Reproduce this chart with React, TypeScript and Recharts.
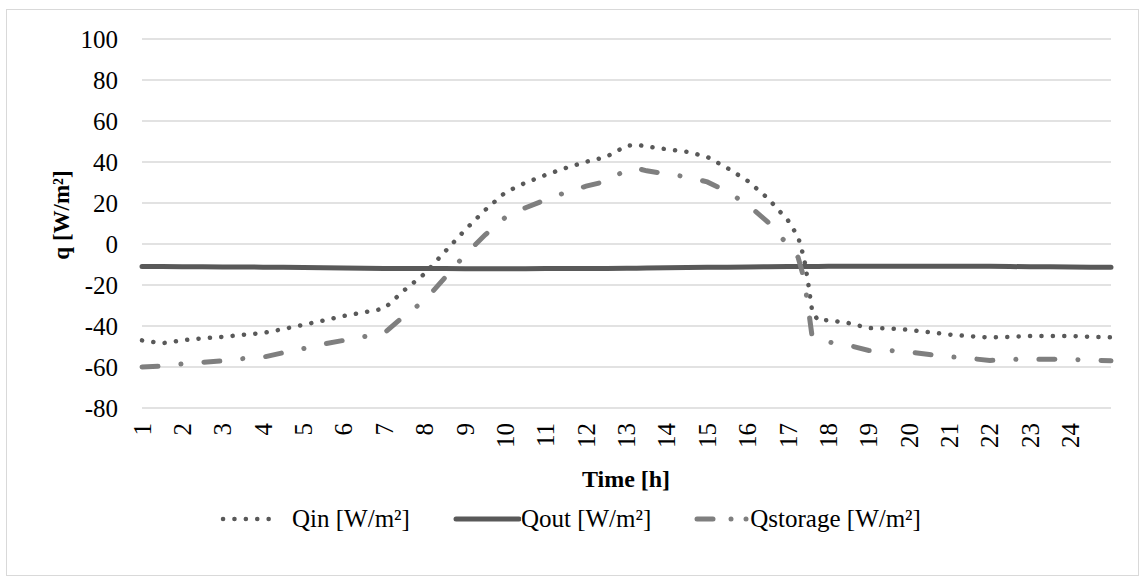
import { LineChart, Line, XAxis, YAxis, CartesianGrid, Legend, Label } from "recharts";

const FONT = "'Liberation Serif', 'Times New Roman', serif";
const DARK = "#595959";
const LIGHT = "#7f7f7f";
const GRID = "#d9d9d9";

// time of day [h]; extra samples around the evening drop
const hours = [
  1, 1.5, 2, 2.5, 3, 3.5, 4, 4.5, 5, 5.5, 6, 6.5, 7, 7.5, 8, 8.5, 9, 9.5, 10, 10.5,
  11, 11.5, 12, 12.5, 13, 13.25, 13.5, 14, 14.5, 15, 15.5, 16, 16.5, 17, 17.25, 17.4,
  17.5, 17.6, 17.75, 18, 18.5, 19, 19.5, 20, 20.5, 21, 21.5, 22, 22.5, 23, 23.5, 24,
  24.5, 25,
];

const qIn = [
  -47, -48.4, -47, -46, -45.3, -44.3, -43.4, -41.5, -39.4, -37.3, -35.1, -33.3, -31.5,
  -22.5, -14.5, -3.8, 6.8, 16.6, 25.2, 29.9, 33.7, 37.1, 40.1, 42.5, 47.9, 48.4, 47.6,
  46.2, 45, 42.5, 37, 30.8, 22.3, 11.5, 3.5, -7, -19, -33, -37.4, -37.1, -38.6, -41,
  -41.2, -41.9, -43, -44.2, -45, -45.6, -45.3, -44.9, -44.9, -44.9, -45.3, -45.5,
];

const qOut = [
  -11, -11, -11.1, -11.1, -11.2, -11.2, -11.3, -11.4, -11.5, -11.6, -11.7, -11.8, -11.9,
  -11.9, -12, -12, -12.1, -12.1, -12.1, -12.1, -12, -12, -11.9, -11.9, -11.8, -11.8,
  -11.7, -11.6, -11.5, -11.4, -11.3, -11.2, -11.1, -11, -11, -11, -11, -11, -11, -10.9,
  -10.9, -10.8, -10.8, -10.8, -10.8, -10.8, -10.9, -10.9, -11, -11.1, -11.1, -11.2,
  -11.3, -11.3,
];

const qStorage = [
  -60, -59.6, -58.5, -57.7, -57, -55.9, -55.2, -53, -51, -48.8, -47, -45.2, -43.4, -35,
  -27.5, -16.5, -5.3, 4.5, 13, 17.7, 21.6, 25.2, 28.2, 30.6, 36.2, 36.9, 35.7, 34.2,
  32.7, 30.3, 25.5, 19.2, 10.7, -0.5, -6.5, -17, -31, -45.5, -46.8, -47.8, -49.4, -51.9,
  -51.9, -52.7, -53.9, -55, -55.8, -56.8, -56.3, -56.2, -56.2, -56.3, -56.7, -57,
];

const hourTicks = [1, 2, 3, 4, 5, 6, 7, 8, 9, 10, 11, 12, 13, 14, 15, 16, 17, 18, 19, 20, 21, 22, 23, 24];
const qTicks = [-80, -60, -40, -20, 0, 20, 40, 60, 80, 100];

const data = hours.map((hour, i) => ({
  hour,
  qIn: qIn[i],
  qOut: qOut[i],
  qStorage: qStorage[i],
}));

const DOTS = "0.1 11.3";
const DASH_DOT = "16 23 0.1 23";

function HourTick({ x, y, payload }: any) {
  return (
    <text
      x={x}
      y={y}
      transform={`rotate(-90 ${x} ${y})`}
      textAnchor="end"
      dominantBaseline="central"
      fontSize={25}
      fontFamily={FONT}
      fill="#000"
    >
      {payload.value}
    </text>
  );
}

function QTick({ x, y, payload }: any) {
  return (
    <text x={x} y={y} textAnchor="end" dominantBaseline="central" fontSize={25} fontFamily={FONT} fill="#000">
      {payload.value}
    </text>
  );
}

function SeriesLegend() {
  return (
    <div
      style={{
        display: "flex",
        justifyContent: "center",
        alignItems: "center",
        height: 30,
        fontFamily: FONT,
        fontSize: 25,
        color: "#000",
        whiteSpace: "nowrap",
      }}
    >
      <svg width={60} height={10}>
        <line x1={3} y1={5} x2={58} y2={5} stroke={DARK} strokeWidth={4.5} strokeLinecap="round" strokeDasharray={DOTS} />
      </svg>
      <span style={{ marginLeft: 12 }}>Qin [W/m²]</span>
      <svg width={68} height={10} style={{ marginLeft: 43 }}>
        <line x1={3} y1={5} x2={66} y2={5} stroke={DARK} strokeWidth={5} strokeLinecap="round" />
      </svg>
      <span>Qout [W/m²]</span>
      <svg width={56} height={10} style={{ marginLeft: 43 }}>
        <line x1={3} y1={5} x2={19} y2={5} stroke={LIGHT} strokeWidth={5} strokeLinecap="round" />
        <circle cx={37} cy={5} r={2.5} fill={LIGHT} />
        <circle cx={52} cy={5} r={2.5} fill={LIGHT} />
      </svg>
      <span>Qstorage [W/m²]</span>
    </div>
  );
}

export default function App() {
  return (
    <div style={{ position: "absolute", left: 0, top: 0, width: 1141, height: 579, background: "#fff" }}>
      <div
        style={{
          position: "absolute",
          left: 6,
          top: 9,
          width: 1133,
          height: 567,
          border: `1px solid ${GRID}`,
          boxSizing: "border-box",
        }}
      />
      <LineChart
        width={1141}
        height={579}
        data={data}
        margin={{ top: 39, right: 30, bottom: 121, left: 0 }}
        style={{ position: "absolute", left: 0, top: 0 }}
      >
        <CartesianGrid vertical={false} stroke={GRID} strokeWidth={1.5} />
        <XAxis
          dataKey="hour"
          type="number"
          domain={[1, 25]}
          ticks={hourTicks}
          interval={0}
          height={50}
          axisLine={false}
          tickLine={false}
          tickSize={0}
          tickMargin={15}
          tick={<HourTick />}
        >
          <Label
            content={() => (
              <text x={626} y={479} textAnchor="middle" dominantBaseline="central" fontSize={24} fontWeight="bold" fontFamily={FONT} fill="#000">
                Time [h]
              </text>
            )}
          />
        </XAxis>
        <YAxis
          type="number"
          domain={[-80, 100]}
          ticks={qTicks}
          interval={0}
          width={142}
          axisLine={false}
          tickLine={false}
          tickSize={0}
          tickMargin={24}
          tick={<QTick />}
        >
          <Label
            content={() => (
              <text
                x={61}
                y={215}
                transform="rotate(-90 61 215)"
                textAnchor="middle"
                dominantBaseline="central"
                fontSize={23}
                fontWeight="bold"
                fontFamily={FONT}
                fill="#000"
              >
                q [W/m²]
              </text>
            )}
          />
        </YAxis>
        <Legend
          layout="horizontal"
          verticalAlign="middle"
          content={<SeriesLegend />}
          wrapperStyle={{ top: 504, left: 0, width: 1141 }}
        />
        <Line
          type="linear"
          dataKey="qOut"
          name="Qout [W/m²]"
          stroke={DARK}
          strokeWidth={5}
          strokeLinecap="round"
          dot={false}
          isAnimationActive={false}
        />
        <Line
          type="linear"
          dataKey="qIn"
          name="Qin [W/m²]"
          stroke={DARK}
          strokeWidth={4.5}
          strokeLinecap="round"
          strokeDasharray={DOTS}
          dot={false}
          isAnimationActive={false}
        />
        <Line
          type="linear"
          dataKey="qStorage"
          name="Qstorage [W/m²]"
          stroke={LIGHT}
          strokeWidth={5}
          strokeLinecap="round"
          strokeDasharray={DASH_DOT}
          dot={false}
          isAnimationActive={false}
        />
      </LineChart>
    </div>
  );
}
